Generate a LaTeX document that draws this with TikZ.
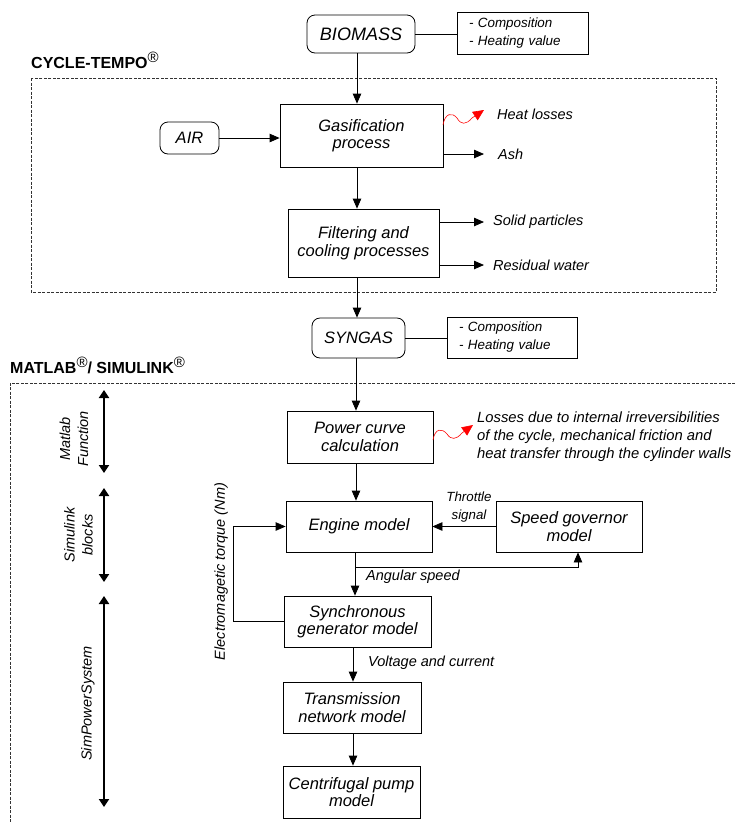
\documentclass[tikz,border=0pt]{standalone}
\usepackage{fontspec}
\setmainfont{Liberation Sans}
\usetikzlibrary{arrows.meta}
\newcommand\fbx{\fontsize{16.5}{17.5}\selectfont\itshape}
\newcommand\fbig{\fontsize{18}{20}\selectfont\itshape}
\newcommand\finfo{\fontsize{13.4}{18}\selectfont\itshape}
\newcommand\flab{\fontsize{14.5}{18}\selectfont\itshape}
\newcommand\fthr{\fontsize{13.3}{18}\selectfont\itshape}
\newcommand\fhead{\fontsize{16}{18}\selectfont\bfseries}
\newcommand\regmark{\raisebox{6pt}{\fontsize{15}{15}\selectfont\mdseries ®}}
\begin{document}
\begin{tikzpicture}[x=1pt,y=-1pt,
  box/.style={draw, line width=0.8pt, inner sep=0pt, align=center, font=\fbx},
  rbox/.style={box, rounded corners=8pt},
  info/.style={draw, line width=0.8pt, inner xsep=12pt, inner ysep=0pt, align=left, font=\finfo},
  lab/.style={inner sep=0pt, font=\flab, anchor=west},
  side/.style={inner sep=0pt, font=\flab, align=center, rotate=90},
  arr/.style={-{Triangle[length=10pt,width=8.5pt]}, line width=0.8pt},
  dbl/.style={{Triangle[length=8pt,width=10pt]}-{Triangle[length=8pt,width=10pt]}, line width=2.2pt},
  heat/.style={red, line width=0.6pt, -{Triangle[length=11pt,width=10pt]}},
  dashframe/.style={dash pattern=on 3pt off 1.5pt, line width=0.7pt, black!80}
]
\useasboundingbox (0,0) rectangle (735,823);

% frames and headings
\node[anchor=base west, inner sep=0pt, font=\fhead] (ct) at (31,68) {CYCLE-TEMPO\regmark};
\draw[dashframe] (31,78) rectangle (716,292);
\node[anchor=base west, inner sep=0pt, font=\fhead] (ml) at (10,373) {MATLAB\regmark/ SIMULINK\regmark};
\draw[dashframe] (735,383) -- (10,383) -- (10,823);

% nodes
\node[rbox, font=\fbig, minimum width=108pt, minimum height=38pt] (bio) at (361,34) {BIOMASS};
\node[info, text width=107pt, minimum height=42pt] (bioi) at (522.5,33) {- Composition\\- Heating value};
\node[rbox, minimum width=59pt, minimum height=32pt] (air) at (189.5,138) {AIR};
\node[box, minimum width=163pt, minimum height=63pt] (gas) at (361.5,135.5) {Gasification\\process};
\node[box, minimum width=151pt, minimum height=68pt] (filt) at (363.5,243) {Filtering and\\cooling processes};
\node[rbox, minimum width=93pt, minimum height=40pt] (syn) at (358.5,338) {SYNGAS};
\node[info, text width=106pt, minimum height=41pt] (syni) at (512,337.5) {- Composition\\- Heating value};
\node[box, minimum width=146pt, minimum height=52pt] (power) at (360,437) {Power curve\\calculation};
\node[box, minimum width=146pt, minimum height=51pt] (eng) at (359,526.5) {Engine model};
\node[box, minimum width=146pt, minimum height=51pt] (gov) at (569,526.5) {Speed governor\\model};
\node[box, minimum width=147pt, minimum height=51pt] (sync) at (357.5,621.5) {Synchronous\\generator model};
\node[box, minimum width=138pt, minimum height=51pt] (trans) at (352,707.5) {Transmission\\network model};
\node[box, minimum width=137pt, minimum height=52pt] (pump) at (351.5,792) {Centrifugal pump\\model};

% spine coordinates
\coordinate (sA) at (357,0);
\coordinate (sB) at (356,0);
\coordinate (sC) at (355,0);
\coordinate (sD) at (353,0);

% main connectors
\draw[line width=0.8pt] (bio.east) -- (bio.east -| bioi.west);
\draw[arr] (bio.south -| sA) -- (gas.north -| sA);
\draw[arr] (air.east) -- (air.east -| gas.west);
\draw[arr] (gas.south -| sA) -- (filt.north -| sA);
\draw[arr] (filt.south -| sA) -- (syn.north -| sA);
\draw[line width=0.8pt] (syn.east) -- (syn.east -| syni.west);
\draw[arr] (syn.south -| sB) -- (power.north -| sB);
\draw[arr] (power.south -| sB) -- (eng.north -| sB);
\draw[arr] (eng.south -| sC) -- (sync.north -| sC);
\draw[arr] (sync.south -| sD) -- (trans.north -| sD);
\draw[arr] (trans.south -| sD) -- (pump.north -| sD);

% gasification outputs
\coordinate (heatS) at (443,125);
\coordinate (heatE) at (484,110);
\draw[heat] (heatS) .. controls (445,113) and (452,112) .. (457,118) .. controls (461,125) and (466,125) .. (472,118) -- (heatE);
\node[lab] (heatl) at (497,114) {Heat losses};
\coordinate (ashE) at (484,154);
\draw[arr] (gas.east |- ashE) -- (ashE);
\node[lab] (ash) at (498,154) {Ash};

% filtering outputs
\coordinate (solE) at (484,222);
\draw[arr] (filt.east |- solE) -- (solE);
\node[lab] (sol) at (493,222) {Solid particles};
\coordinate (resE) at (484,265);
\draw[arr] (filt.east |- resE) -- (resE);
\node[lab] (res) at (493,265) {Residual water};

% power curve losses
\coordinate (lossS) at (433,440);
\coordinate (lossE) at (473,425);
\draw[heat] (lossS) .. controls (435,428) and (442,428) .. (447,434) .. controls (451,440) and (456,440) .. (462,433) -- (lossE);
\node[lab, align=left, font=\fontsize{14.8}{18}\selectfont\itshape] (loss) at (477,437) {Losses due to internal irreversibilities\\of the cycle, mechanical friction and\\heat transfer through the cylinder walls};

% engine loop
\draw[arr] (gov.west) -- (eng.east);
\node[inner sep=0pt, font=\fthr, align=center] (thr) at (469,507) {Throttle\\signal};
\coordinate (jA) at (355,567);
\draw[arr] (jA) -| ([xshift=9pt]gov.south);
\node[lab] (ang) at (366,577) {Angular speed};
\draw[arr] (sync.west) -- ++(-50,0) |- (eng.west);
\node[side] (em) at (221,571.5) {Electromagetic torque (Nm)};
\node[lab] (volt) at (368,663) {Voltage and current};

% side brackets
\coordinate (a1) at (104,390);
\coordinate (a2) at (104,473);
\coordinate (a3) at (104,488);
\coordinate (a4) at (104,582);
\coordinate (a5) at (104,596);
\coordinate (a6) at (104,807);
\draw[dbl] (a1) -- (a2);
\draw[dbl] (a3) -- (a4);
\draw[dbl] (a5) -- (a6);
\node[side] (mf) at (74,439) {Matlab\\Function};
\node[side] (sb) at (78.5,535) {Simulink\\blocks};
\node[side] (sps) at (88,703.5) {SimPowerSystem};
\end{tikzpicture}
\end{document}
